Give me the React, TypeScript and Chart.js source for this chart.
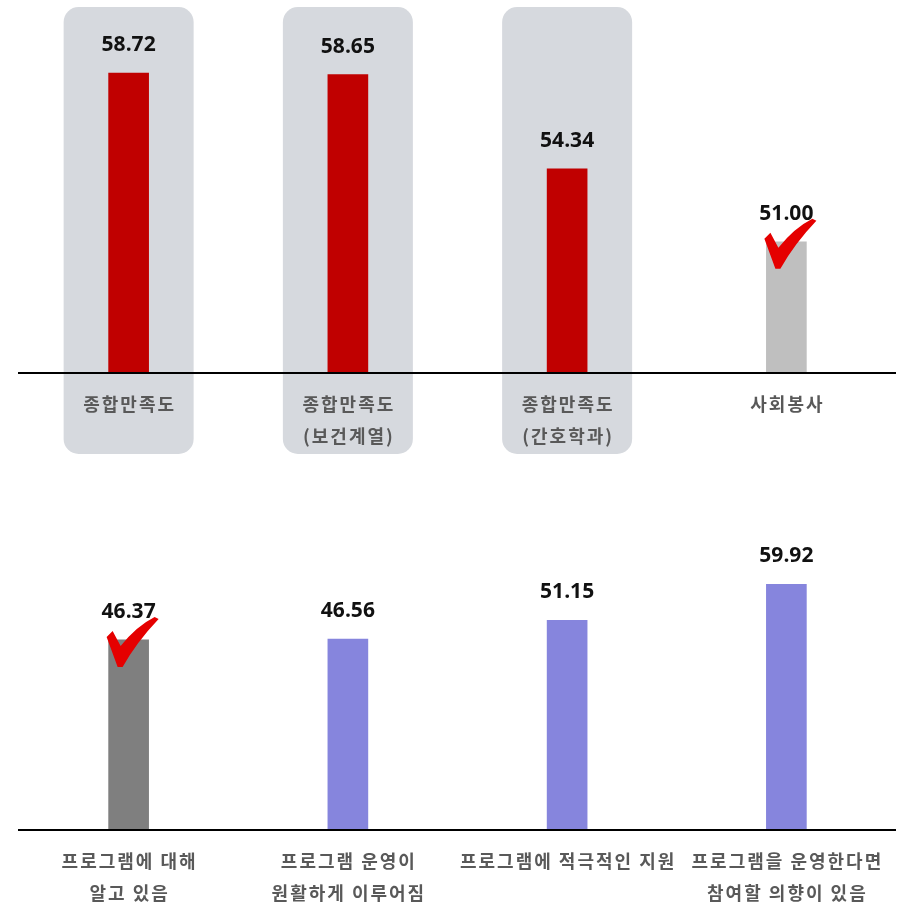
import React, { useEffect, useRef } from "react";
import { Chart, registerables } from "chart.js";

Chart.register(...registerables);

const topCategories: string[][] = [["종합만족도"], ["종합만족도", "(보건계열)"], ["종합만족도", "(간호학과)"], ["사회봉사"]];
const topValues: number[] = [58.72, 58.65, 54.34, 51.0];
const topColors: string[] = ["#c00000", "#c00000", "#c00000", "#bfbfbf"];
const topHighlighted: boolean[] = [true, true, true, false];
const topChecked: boolean[] = [false, false, false, true];

const bottomCategories: string[][] = [
  ["프로그램에 대해", "알고 있음"],
  ["프로그램 운영이", "원활하게 이루어짐"],
  ["프로그램에 적극적인 지원"],
  ["프로그램을 운영한다면", "참여할 의향이 있음"],
];
const bottomValues: number[] = [46.37, 46.56, 51.15, 59.92];
const bottomColors: string[] = ["#7f7f7f", "#8685dd", "#8685dd", "#8685dd"];
const bottomChecked: boolean[] = [true, false, false, false];

function drawCheck(ctx: CanvasRenderingContext2D, cx: number, top: number) {
  ctx.save();
  ctx.fillStyle = "#e50000";
  ctx.beginPath();
  ctx.moveTo(cx - 22, top - 3);
  ctx.lineTo(cx - 16, top - 9);
  ctx.lineTo(cx - 8, top + 6);
  ctx.quadraticCurveTo(cx + 8, top - 14, cx + 26, top - 23);
  ctx.lineTo(cx + 30, top - 21);
  ctx.quadraticCurveTo(cx + 8, top + 2, cx - 6, top + 27);
  ctx.lineTo(cx - 11, top + 27);
  ctx.closePath();
  ctx.fill();
  ctx.restore();
}

function makeChart(
  canvas: HTMLCanvasElement,
  cats: string[][],
  values: number[],
  colors: string[],
  checked: boolean[],
  highlighted: boolean[] | null,
  yMin: number,
  yMax: number,
  padTop: number,
  padBottom: number,
  boxTop: number,
  boxBottom: number
) {
  const decor = {
    id: "decor",
    beforeDraw(chart: any) {
      if (!highlighted) return;
      const ctx = chart.ctx;
      const xs = chart.scales.x;
      ctx.save();
      ctx.fillStyle = "#d6d9de";
      highlighted.forEach((h, i) => {
        if (!h) return;
        const cx = xs.getPixelForValue(i);
        ctx.beginPath();
        (ctx as any).roundRect(cx - 65, boxTop, 130, boxBottom - boxTop, 15);
        ctx.fill();
      });
      ctx.restore();
    },
    afterDatasetsDraw(chart: any) {
      const ctx: CanvasRenderingContext2D = chart.ctx;
      const xs = chart.scales.x;
      const ys = chart.scales.y;
      const base = ys.getPixelForValue(yMin);
      ctx.save();
      ctx.strokeStyle = "#000";
      ctx.lineWidth = 2;
      ctx.beginPath();
      ctx.moveTo(chart.chartArea.left - 1, base);
      ctx.lineTo(chart.chartArea.right, base);
      ctx.stroke();

      ctx.textAlign = "center";
      ctx.textBaseline = "middle";
      values.forEach((v, i) => {
        const cx = xs.getPixelForValue(i);
        const top = ys.getPixelForValue(v);
        ctx.fillStyle = "#111";
        ctx.font = "bold 21px 'Open Sans', 'Noto Sans', sans-serif";
        ctx.fillText(v.toFixed(2), cx, top - 28);
        if (checked[i]) drawCheck(ctx, cx, top);
      });
      ctx.fillStyle = "#595959";
      ctx.font = "bold 18px 'Noto Sans CJK KR', sans-serif";
      (ctx as any).letterSpacing = "2px";
      cats.forEach((lines, i) => {
        const cx = xs.getPixelForValue(i) + 1;
        lines.forEach((ln, j) => {
          ctx.fillText(ln, cx, base + 31 + j * 32);
        });
      });
      ctx.restore();
    },
  };

  return new Chart(canvas, {
    type: "bar",
    data: {
      labels: cats.map((c) => c.join(" ")),
      datasets: [
        {
          data: values,
          backgroundColor: colors,
          borderWidth: 0,
          barThickness: 40,
        },
      ],
    },
    options: {
      animation: false,
      responsive: false,
      maintainAspectRatio: false,
      layout: { padding: { top: padTop, bottom: padBottom, left: 19, right: 1 } },
      plugins: { legend: { display: false }, tooltip: { enabled: false } },
      scales: {
        x: { display: false },
        y: { display: false, min: yMin, max: yMax },
      },
    },
    plugins: [decor],
  });
}

export default function App() {
  const topRef = useRef<HTMLCanvasElement>(null);
  const botRef = useRef<HTMLCanvasElement>(null);

  useEffect(() => {
    document.body.style.margin = "0";
    const c1 = makeChart(topRef.current!, topCategories, topValues, topColors, topChecked, topHighlighted, 45, 60, 45, 87, 7, 454);
    const c2 = makeChart(botRef.current!, bottomCategories, bottomValues, bottomColors, bottomChecked, null, 0, 70, 83, 75, 0, 0);
    return () => {
      c1.destroy();
      c2.destroy();
    };
  }, []);

  return (
    <div style={{ position: "relative", width: 897, height: 905, background: "#fff" }}>
      <canvas ref={topRef} width={897} height={460} style={{ position: "absolute", left: 0, top: 0, width: 897, height: 460 }} />
      <canvas ref={botRef} width={897} height={445} style={{ position: "absolute", left: 0, top: 460, width: 897, height: 445 }} />
    </div>
  );
}
